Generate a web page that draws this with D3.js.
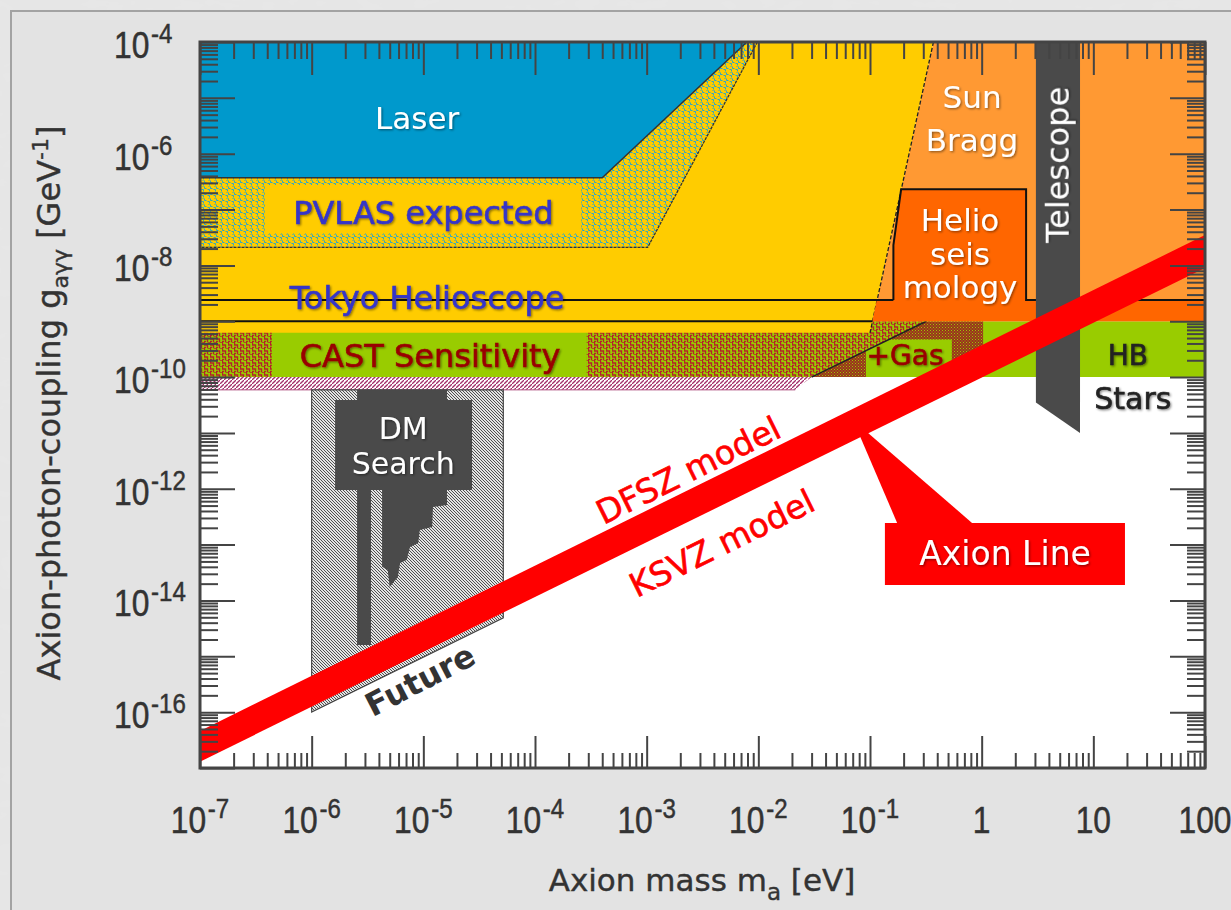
<!DOCTYPE html>
<html>
<head>
<meta charset="utf-8">
<script src="https://cdn.jsdelivr.net/npm/d3@7"></script>
<style>
  body { margin: 0; background: #d6d6d6; }
  svg { display: block; }
</style>
</head>
<body>
<svg id="chart" width="1231" height="910"></svg>
<script>
// ---- Axis values -----------------------------------------------------------
const massDecades = [1e-7, 1e-6, 1e-5, 1e-4, 1e-3, 1e-2, 1e-1, 1, 10, 100];
const massTickLabels = [["10","-7"],["10","-6"],["10","-5"],["10","-4"],["10","-3"],
                        ["10","-2"],["10","-1"],["1",""],["10",""],["100",""]];
const couplingLabelled = [1e-4, 1e-6, 1e-8, 1e-10, 1e-12, 1e-14, 1e-16];
const couplingTickLabels = [["10","-4"],["10","-6"],["10","-8"],["10","-10"],
                            ["10","-12"],["10","-14"],["10","-16"]];

// ---- Regions: [axion mass (eV), coupling (GeV^-1)] ------------------------
const laserRegion   = [[1e-7,1e-4],[1e-7,3.7e-7],[4.0e-4,3.7e-7],[7.9e-3,1e-4]];
const pvlasRegion   = [[1e-7,3.7e-7],[4.0e-4,3.7e-7],[7.9e-3,1e-4],[9.8e-3,1e-4],
                       [1.02e-3,2.1e-8],[1e-7,2.1e-8]];
const pvlasInner    = [[3.8e-7,2.75e-7],[2.6e-4,2.75e-7],[2.6e-4,3.8e-8],[3.8e-7,3.8e-8]];
const helioscopeRegion = [[1e-7,1e-4],[0.37,1e-4],[0.1,6.2e-10],[1e-7,6.2e-10]];
const sunBraggRegion   = [[0.37,1e-4],[100,1e-4],[100,1e-9],[0.105,1e-9]];
const helioseisRegion  = [[0.19,2.3e-7],[2.5,2.3e-7],[2.5,2.4e-9],[100,2.4e-9],[100,1e-9],
                          [0.105,1e-9],[0.115,2.4e-9],[0.162,2.4e-9],[0.162,2.3e-8]];
const helioseisEdge    = [[0.162,2.4e-9],[0.162,2.3e-8],[0.19,2.3e-7],[2.5,2.3e-7],
                          [2.5,2.4e-9],[100,2.4e-9]];
const tokyoLimit    = [[1e-7,2.4e-9],[0.162,2.4e-9]];
const castLimit     = [[1e-7,1e-9],[0.105,1e-9]];
const hbRegion      = [[1e-7,1e-9],[100,1e-9],[100,1e-10],[1e-7,1e-10]];
const castRegion    = [[1e-7,1e-9],[0.32,1e-9],[0.030,1e-10],[1e-7,1e-10]];
const castInner     = [[4.4e-7,1e-9],[2.9e-4,1e-9],[2.9e-4,1e-10],[4.4e-7,1e-10]];
const gasRegion     = [[0.030,1e-10],[0.32,1e-9],[1.03,1e-9],[1.03,1e-10]];
const gasInner      = [[0.092,1e-10],[0.092,3.0e-10],[0.148,4.7e-10],[0.54,4.7e-10],[0.54,1e-10]];
const gasEdge       = [[0.030,1e-10],[0.32,1e-9]];
const castFuture    = [[1e-7,1e-10],[0.030,1e-10],[0.0214,5.9e-11],[1e-7,5.9e-11]];
const telescopeRegion = [[3.06,1e-4],[7.6,1e-4],[7.6,1e-11],[3.06,3.5e-11]];
const dmFuture      = [[1e-6,5.9e-11],[5.2e-5,5.9e-11],[5.2e-5,4.9e-15],[1e-6,1e-16]];
const dmBar         = [[2.55e-6,5.9e-11],[3.4e-6,5.9e-11],[3.4e-6,1.6e-15],[2.55e-6,1.6e-15]];
const dmExcluded    = [[3.13e-6,5.9e-11],[1.63e-5,5.9e-11],[1.63e-5,5.1e-13],[1.22e-5,4.7e-13],
                       [1.20e-5,2.07e-13],[9.3e-6,1.83e-13],[9.0e-6,1.07e-13],[7.6e-6,9.1e-14],
                       [7.1e-6,5.3e-14],[6.2e-6,4.7e-14],[5.9e-6,2.6e-14],[5.35e-6,2.06e-14],
                       [5.0e-6,1.75e-14],[4.8e-6,3.5e-14],[4.27e-6,4.0e-14],[4.27e-6,9.5e-13],
                       [3.13e-6,9.5e-13]];
const dmLabelBox    = [[1.62e-6,3.9e-11],[2.73e-5,3.9e-11],[2.73e-5,9.5e-13],[1.62e-6,9.5e-13]];
const axionUpper    = [[1e-7,4.6e-17],[100,3.5e-8]];
const axionLower    = [[1e-7,1.3e-17],[100,9.0e-9]];
const calloutBox    = [[0.136,2.45e-13],[19.2,2.45e-13],[19.2,1.9e-14],[0.136,1.9e-14]];
const calloutPointer = [[0.0705,1.7e-11],[0.175,2.45e-13],[0.82,2.45e-13]];

// ---- Scales ---------------------------------------------------------------
const x = d3.scaleLog().domain([1e-7, 100]).range([200, 1205]);
const y = d3.scaleLog().domain([1e-17, 1e-4]).range([768, 42]);
const line = d3.line().x(d => x(d[0])).y(d => y(d[1]));
const shape = pts => line(pts) + "Z";

const svg = d3.select("#chart");
const defs = svg.append("defs");

// stipple / hatch fills
function pattern(id, w, h, bg, build) {
  const p = defs.append("pattern").attr("id", id).attr("patternUnits", "userSpaceOnUse")
    .attr("width", w).attr("height", h);
  p.append("rect").attr("width", w).attr("height", h).attr("fill", bg);
  build(p);
}
pattern("pvlasDots", 6, 6, "#ffcc00", p => {
  p.append("path").attr("d", "M0.5,0.5v2h2M3.5,3.5h2v2M4.5,0.5h1")
    .attr("stroke", "#2aa6c8").attr("stroke-width", 1).attr("fill", "none");
});
pattern("castWorms", 6, 6, "#99cc00", p => {
  p.append("path").attr("d", "M0.5,0v3h3v3M3.5,0h2.5M0,5.5h2")
    .attr("stroke", "#b5202a").attr("stroke-width", 1.4).attr("fill", "none");
});
pattern("gasCheck", 3, 3, "#9c2e1e", p => {
  p.append("rect").attr("x", 0).attr("y", 0).attr("width", 1).attr("height", 1).attr("fill", "#99cc00");
  p.append("rect").attr("x", 1.5).attr("y", 1.5).attr("width", 1).attr("height", 1).attr("fill", "#8fb800");
});
pattern("pinkHatch", 4, 4, "#ffffff", p => {
  p.append("path").attr("d", "M0,4L4,0").attr("stroke", "#a3306a").attr("stroke-width", 1.3);
});
pattern("dmHatch", 3, 3, "#e4e4e4", p => {
  p.append("path").attr("d", "M0,0L3,3M-1,2L1,4M2,-1L4,1").attr("stroke", "#505050").attr("stroke-width", 1);
});

const shadow = defs.append("filter").attr("id", "shadow").attr("x", "-10%").attr("y", "-10%")
  .attr("width", "130%").attr("height", "140%");
shadow.append("feDropShadow").attr("dx", 1.2).attr("dy", 1.2).attr("stdDeviation", 0.8)
  .attr("flood-color", "#000").attr("flood-opacity", 0.45);

// soft marble texture for the outer page border
const marble = defs.append("filter").attr("id", "marble").attr("x", 0).attr("y", 0)
  .attr("width", "100%").attr("height", "100%");
marble.append("feTurbulence").attr("type", "fractalNoise").attr("baseFrequency", "0.04 0.09")
  .attr("numOctaves", 3).attr("seed", 7).attr("result", "noise");
marble.append("feColorMatrix").attr("in", "noise").attr("type", "matrix")
  .attr("values", "0 0 0 0 0.80  0 0 0 0 0.80  0 0 0 0 0.80  0 0 0 -1.1 0.75")
  .attr("result", "veins");
marble.append("feComposite").attr("in", "veins").attr("in2", "SourceGraphic").attr("operator", "over");

defs.append("clipPath").attr("id", "plotClip").append("rect")
  .attr("x", 200).attr("y", 42).attr("width", 1005).attr("height", 726);

// ---- Page background ------------------------------------------------------
svg.append("rect").attr("width", 1231).attr("height", 910).attr("fill", "#e6e6e6")
  .attr("filter", "url(#marble)");
svg.append("rect").attr("x", 11).attr("y", 11).attr("width", 1240).attr("height", 910)
  .attr("fill", "#e3e3e3").attr("stroke", "#a3a3a3").attr("stroke-width", 2);

const plot = svg.append("g").attr("clip-path", "url(#plotClip)");
plot.append("rect").attr("x", 200).attr("y", 42).attr("width", 1005).attr("height", 726).attr("fill", "#fff");

const fillShape = (pts, fill, stroke, sw) => plot.append("path").attr("d", shape(pts))
  .attr("fill", fill).attr("stroke", stroke || "none").attr("stroke-width", sw || 0);
const strokeLine = (pts, stroke, sw, dash) => plot.append("path").attr("d", line(pts))
  .attr("fill", "none").attr("stroke", stroke).attr("stroke-width", sw)
  .attr("stroke-dasharray", dash || null);

// stellar / solar bounds
fillShape(hbRegion, "#99cc00");
fillShape(castRegion, "url(#castWorms)");
fillShape(castInner, "#99cc00");
fillShape(gasRegion, "url(#gasCheck)");
fillShape(gasInner, "#99cc00");
strokeLine(gasEdge, "#222", 1.5);
fillShape(castFuture, "url(#pinkHatch)");
strokeLine([[1e-7,5.9e-11],[0.0214,5.9e-11]], "#b05080", 1);
fillShape(sunBraggRegion, "#ff9933");
fillShape(helioscopeRegion, "#ffcc00");
strokeLine([helioscopeRegion[1], helioscopeRegion[2]], "#222", 1.3, "4,2");
fillShape(laserRegion, "#0099cc");
fillShape(pvlasRegion, "url(#pvlasDots)");
fillShape(pvlasInner, "#ffcc00");
strokeLine(laserRegion.slice(1), "#333", 1.5);
strokeLine(pvlasRegion.slice(3), "#333", 1.3, "3,1");
fillShape(helioseisRegion, "#ff6600");
strokeLine(helioseisEdge, "#111", 2);
strokeLine(tokyoLimit, "#111", 2);
strokeLine(castLimit, "#111", 2);
fillShape(telescopeRegion, "#4a4a4a");

// dark matter searches
fillShape(dmFuture, "url(#dmHatch)", "#444", 1.2);
fillShape(dmBar, "#4a4a4a");
fillShape(dmExcluded, "#4a4a4a");
fillShape(dmLabelBox, "#4a4a4a");

// ---- In-plot labels --------------------------------------------------------
const font = "'DejaVu Sans', sans-serif";
function label(txt, m, g, size, fill, opts = {}) {
  const t = plot.append("text")
    .attr("transform", `translate(${x(m)},${y(g)}) rotate(${opts.rotate || 0})`)
    .attr("text-anchor", "middle").attr("dy", "0.36em")
    .attr("font-family", font).attr("font-size", size)
    .attr("font-weight", opts.weight || "normal")
    .attr("fill", fill).text(txt);
  if (opts.shadow) t.attr("filter", "url(#shadow)");
  if (opts.heavy) t.attr("stroke", fill).attr("stroke-width", 0.6);
  return t;
}
label("Laser", 8.8e-6, 4.4e-6, 31, "#fff", {shadow: true});
label("PVLAS expected", 1.0e-5, 9.0e-8, 32, "#3535c8", {shadow: true, heavy: true});
label("Tokyo Helioscope", 1.08e-5, 2.7e-9, 32, "#3535c8", {shadow: true, heavy: true});
label("CAST Sensitivity", 1.15e-5, 2.4e-10, 32, "#990000", {shadow: true, heavy: true});
label("Sun", 0.82, 1.04e-5, 31, "#fff", {shadow: true});
label("Bragg", 0.82, 1.76e-6, 31, "#fff", {shadow: true});
label("Helio", 0.64, 6.5e-8, 31, "#fff", {shadow: true});
label("seis", 0.64, 1.6e-8, 31, "#fff", {shadow: true});
label("mology", 0.64, 4.1e-9, 31, "#fff", {shadow: true});
label("Telescope", 4.7, 6.3e-7, 32, "#fff", {rotate: -90, shadow: true});
label("+Gas", 0.206, 2.5e-10, 28, "#990000", {shadow: true, heavy: true});
label("HB", 20.4, 2.5e-10, 28, "#222", {shadow: true, heavy: true});
label("Stars", 22.6, 4.2e-11, 30, "#222", {shadow: true, heavy: true});
label("DM", 6.6e-6, 1.23e-11, 30, "#fff", {shadow: true});
label("Search", 6.6e-6, 2.9e-12, 30, "#fff", {shadow: true});

// ---- Axion band ----------------------------------------------------------
const bandAngle = Math.atan2(y(axionUpper[1][1]) - y(axionUpper[0][1]),
                             x(axionUpper[1][0]) - x(axionUpper[0][0])) * 180 / Math.PI;
label("Future", 9.3e-6, 3.8e-16, 32, "#333", {rotate: bandAngle - 1, weight: "bold"});
label("DFSZ model", 2.35e-3, 2.17e-12, 33, "#ff0000", {rotate: bandAngle, heavy: true});
label("KSVZ model", 4.7e-3, 1.07e-13, 33, "#ff0000", {rotate: bandAngle, heavy: true});

fillShape(axionUpper.concat(axionLower.slice().reverse()), "#ff0000");
fillShape(calloutPointer, "#ff0000");
fillShape(calloutBox, "#ff0000");
label("Axion Line", 1.62, 7.1e-14, 33, "#fff", {shadow: true});

// ---- Ticks (drawn inward on all four sides) ----------------------------------
const massMinor = [];
d3.range(-7, 2).forEach(e => d3.range(2, 10).forEach(k => massMinor.push(k * Math.pow(10, e))));
const couplingMajor = d3.range(-17, -3).map(e => Math.pow(10, e));
const couplingMinor = [];
d3.range(-17, -4).forEach(e => d3.range(2, 10).forEach(k => couplingMinor.push(k * Math.pow(10, e))));

function axisGroup(gen, tx, ty) {
  const g = svg.append("g").attr("transform", `translate(${tx},${ty})`).call(gen);
  g.select(".domain").remove();
  g.selectAll("line").attr("stroke", "#444").attr("stroke-width", 2);
  g.selectAll("text").remove();
}
axisGroup(d3.axisBottom(x).tickValues(massMinor).tickSize(-15), 0, 768);
axisGroup(d3.axisBottom(x).tickValues(massDecades).tickSize(-32), 0, 768);
axisGroup(d3.axisTop(x).tickValues(massMinor).tickSize(-17), 0, 42);
axisGroup(d3.axisTop(x).tickValues(massDecades).tickSize(-33), 0, 42);
axisGroup(d3.axisLeft(y).tickValues(couplingMinor).tickSize(-18), 200, 0);
axisGroup(d3.axisLeft(y).tickValues(couplingMajor).tickSize(-35), 200, 0);
axisGroup(d3.axisRight(y).tickValues(couplingMinor).tickSize(-18), 1205, 0);
axisGroup(d3.axisRight(y).tickValues(couplingMajor).tickSize(-35), 1205, 0);

svg.append("rect").attr("x", 200).attr("y", 42).attr("width", 1005).attr("height", 726)
  .attr("fill", "none").attr("stroke", "#444").attr("stroke-width", 3);

// ---- Tick labels (narrowed powers of ten) -----------------------------------
const tickFont = "'Liberation Sans', Arial, sans-serif";
function powerText(px, py, anchor, base, exp) {
  const t = svg.append("text")
    .attr("transform", `translate(${px},${py}) scale(0.86,1)`)
    .attr("text-anchor", anchor).attr("font-family", tickFont).attr("font-size", 37)
    .attr("fill", "#333").attr("stroke", "#333").attr("stroke-width", 0.5);
  t.append("tspan").text(base);
  if (exp) t.append("tspan").attr("dx", 2).attr("dy", -15).attr("font-size", 28).text(exp);
}
massDecades.forEach((v, i) => powerText(x(v), 833, "middle", massTickLabels[i][0], massTickLabels[i][1]));
couplingLabelled.forEach((v, i) => powerText(114, y(v) + 16, "start", couplingTickLabels[i][0], couplingTickLabels[i][1]));

// ---- Axis titles -----------------------------------------------------------
const xt = svg.append("text").attr("x", 702).attr("y", 891).attr("text-anchor", "middle")
  .attr("font-family", font).attr("font-size", 31).attr("fill", "#333")
  .attr("stroke", "#333").attr("stroke-width", 0.4);
xt.append("tspan").text("Axion mass m");
xt.append("tspan").attr("dy", 9).attr("font-size", 23).text("a");
xt.append("tspan").attr("dy", -9).text(" [eV]");

const yt = svg.append("text").attr("transform", "translate(60,403) rotate(-90)")
  .attr("text-anchor", "middle").attr("font-family", font).attr("font-size", 32)
  .attr("fill", "#333").attr("stroke", "#333").attr("stroke-width", 0.4);
yt.append("tspan").text("Axion-photon-coupling g");
yt.append("tspan").attr("dy", 8).attr("font-size", 22).text("aγγ");
yt.append("tspan").attr("dy", -8).text(" [GeV");
yt.append("tspan").attr("dy", -12).attr("font-size", 22).text("-1");
yt.append("tspan").attr("dy", 12).text("]");
</script>
</body>
</html>
